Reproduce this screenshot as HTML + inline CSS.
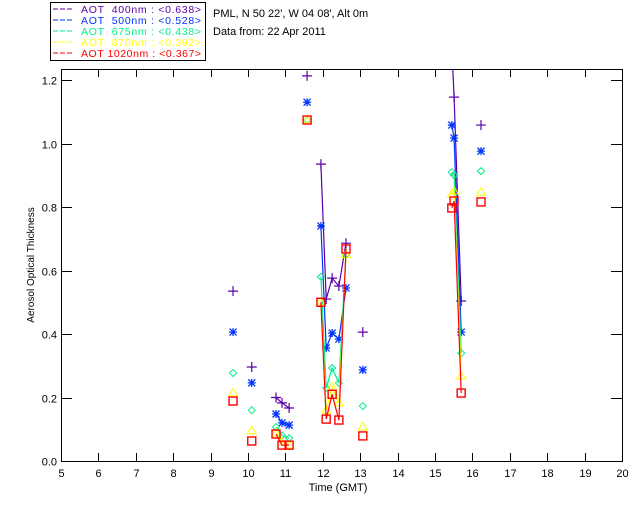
<!DOCTYPE html>
<html><head><meta charset="utf-8"><style>
body{margin:0;background:#fff;width:640px;height:512px;overflow:hidden}
svg{display:block;font-family:"Liberation Sans",sans-serif}
#leg text{white-space:pre}
</style></head><body>
<svg id="c" width="640" height="512">
<g>
<rect x="50.5" y="2.5" width="155" height="58" fill="#fff" stroke="#000"/>
</g>
<text x="213" y="17" font-size="11">PML, N 50 22', W 04 08', Alt 0m</text>
<text x="213" y="35" font-size="11">Data from: 22 Apr 2011</text>
<text x="338" y="491" font-size="11" text-anchor="middle">Time (GMT)</text>
<text transform="translate(34,265) rotate(-90)" font-size="10" text-anchor="middle">Aerosol Optical Thickness</text>
<g id="axes"></g><g id="marks"></g><g id="leg"></g>
</svg>
<script>
const times=[9.6,10.1,10.75,10.91,11.1,11.58,11.95,12.09,12.25,12.43,12.62,13.07,15.45,15.51,15.7,16.23];
const connect=[0,0,0,1,1,0,0,1,1,1,1,0,0,1,1,0];
const aot400=[0.535,0.296,0.2,0.183,0.167,1.213,0.935,0.51,0.576,0.551,0.686,0.406,1.30,1.146,0.504,1.058];
const aot500=[0.406,0.246,0.148,0.12,0.113,1.13,0.74,0.356,0.403,0.384,0.545,0.287,1.058,1.017,0.406,0.976];
const aot675=[0.277,0.16,0.107,0.08,0.072,1.074,0.58,0.23,0.293,0.246,0.65,0.173,0.91,0.90,0.34,0.913];
const aot870=[0.214,0.095,0.088,0.06,0.05,1.074,0.5,0.16,0.233,0.183,0.65,0.107,0.84,0.85,0.268,0.847];
const aot1020=[0.189,0.063,0.085,0.05,0.05,1.074,0.5,0.132,0.21,0.129,0.668,0.079,0.797,0.819,0.214,0.816];
const legendLabels=["AOT  400nm : <0.638>","AOT  500nm : <0.528>","AOT  675nm : <0.438>","AOT  870nm : <0.392>","AOT 1020nm : <0.367>"];
const xTicks=[5,6,7,8,9,10,11,12,13,14,15,16,17,18,19,20];
const yTicks=[0,0.2,0.4,0.6,0.8,1.0,1.2];

const L=61,R=622,T=69,B=461;
const xs=t=>L+(t-5)*(R-L)/15;
const ys=v=>B-v*317.5;
const NS="http://www.w3.org/2000/svg";
function mk(tag,attrs,parent){const e=document.createElementNS(NS,tag);for(const k in attrs)e.setAttribute(k,attrs[k]);parent.appendChild(e);return e;}
const ax=document.getElementById('axes'),mg=document.getElementById('marks'),lg=document.getElementById('leg');
const frame=mk('rect',{x:L+.5,y:T+.5,width:R-L,height:B-T,fill:'none',stroke:'#000'},ax);


xTicks.forEach(t=>{const x=Math.round(xs(t))+.5;
 mk('line',{x1:x,x2:x,y1:B,y2:B-8,stroke:'#000'},ax);
 mk('line',{x1:x,x2:x,y1:T,y2:T+8,stroke:'#000'},ax);
 const tx=mk('text',{x:x,y:B+16,'font-size':11,'text-anchor':'middle'},ax);tx.textContent=t;
 
 });
yTicks.forEach(v=>{const y=Math.round(ys(v))+.5;
 mk('line',{x1:L,x2:L+11,y1:y,y2:y,stroke:'#000'},ax);
 mk('line',{x1:R-11,x2:R,y1:y,y2:y,stroke:'#000'},ax);
 const tx=mk('text',{x:L-4,y:y+4,'font-size':11,'text-anchor':'end'},ax);tx.textContent=v.toFixed(1);
 
 });
const cp=mk('clipPath',{id:'cp'},mg);
mk('rect',{x:L,y:T,width:R-L,height:B-T},cp);
const series=[[aot400,'#5a00a8','plus'],[aot500,'#0033ff','star'],[aot675,'#00ee88','diamond'],[aot870,'#ffff00','tri'],[aot1020,'#ff0000','square']];
series.forEach(([vals,col,sym],si)=>{
 const g=mk('g',{'clip-path':'url(#cp)'},mg);
 
 
 let d='';
 times.forEach((t,i)=>{const x=xs(t),y=ys(vals[i]);d+=(connect[i]?'L':'M')+x.toFixed(1)+' '+y.toFixed(1);});
 mk('path',{d:d,fill:'none',stroke:col,'stroke-width':1.2},g);
 times.forEach((t,i)=>{const x=xs(t),y=ys(vals[i]);let e;
  if(sym==='plus')e=mk('path',{d:`M${x-5} ${y}h10M${x} ${y-5}v10`,stroke:col,'stroke-width':1.2,fill:'none'},g);
  else if(sym==='star')e=mk('path',{d:`M${x-4} ${y}h8M${x} ${y-4}v8M${x-3.5} ${y-3.5}l7 7M${x-3.5} ${y+3.5}l7 -7`,stroke:col,'stroke-width':1.3,fill:'none'},g);
  else if(sym==='diamond')e=mk('path',{d:`M${x} ${y-3.5}l3.5 3.5l-3.5 3.5l-3.5 -3.5z`,stroke:col,'stroke-width':1,fill:'none'},g);
  else if(sym==='tri')e=mk('path',{d:`M${x} ${y-4.5}l4.5 7.5h-9z`,stroke:col,'stroke-width':1,fill:'none'},g);
  else e=mk('rect',{x:x-4,y:y-4,width:8,height:8,stroke:col,'stroke-width':1.4,fill:'none'},g);
  
  });
 const ly=13+si*11;
 mk('line',{x1:53,x2:74,y1:ly-4,y2:ly-4,stroke:col,'stroke-dasharray':'5 2','stroke-width':1},lg);
 const tx=mk('text',{x:81,y:ly,'font-size':10.5,fill:col,textLength:120,lengthAdjust:'spacing'},lg);tx.textContent=legendLabels[si];
 
 
});
</script>
</body></html>
